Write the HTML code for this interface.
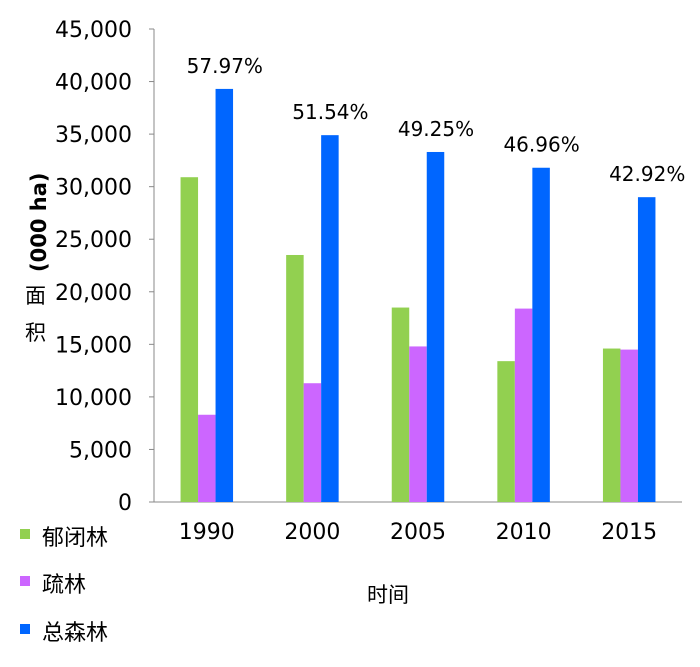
<!DOCTYPE html>
<html><head><meta charset="utf-8"><style>
body{margin:0;background:#fff;}
svg text{font-family:"DejaVu Sans","Liberation Sans","Noto Sans CJK SC",sans-serif;fill:#000;}
</style></head><body>
<svg id="chart" width="700" height="662"></svg>
<script>
const categories=["1990","2000","2005","2010","2015"];
const closedForest=[30900,23500,18500,13400,14600];
const openForest=[8300,11300,14800,18400,14500];
const totalForest=[39300,34900,33300,31800,29000];
const pctLabels=["57.97%","51.54%","49.25%","46.96%","42.92%"];
const yTicks=[0,5000,10000,15000,20000,25000,30000,35000,40000,45000];
const NS="http://www.w3.org/2000/svg";
const svg=document.getElementById('chart');
const x0=154,x1=682,yTop=29,yBot=502,yMax=45000;
const y=v=>yBot-(v/yMax)*(yBot-yTop);
const band=(x1-x0)/categories.length;
const xc=i=>x0+band*(i+0.5);
function mk(t,a){const e=document.createElementNS(NS,t);for(const k in a)e.setAttribute(k,a[k]);svg.appendChild(e);return e;}
let e;
e=mk('line',{x1:x0,y1:yTop,x2:x0,y2:yBot,stroke:'#888','stroke-width':1});


e=mk('line',{x1:x0,y1:yBot,x2:x1,y2:yBot,stroke:'#888','stroke-width':1});


yTicks.forEach(v=>{
 e=mk('line',{x1:x0-5,y1:y(v),x2:x0,y2:y(v),stroke:'#888'});
 
 
 e=mk('text',{x:x0-22,y:y(v)+8,'text-anchor':'end','font-size':22});
 e.textContent=v.toLocaleString('en-US');
 
 
});
const bw=17.5;
const series=[[closedForest,'#92d050','bar-closed-forest'],[openForest,'#cc66ff','bar-open-forest'],[totalForest,'#0066ff','bar-total-forest']];
categories.forEach((c,i)=>{
 series.forEach((s,j)=>{
  const bx=xc(i)-bw*1.5+bw*j;
  e=mk('rect',{x:bx,y:y(s[0][i]),width:bw,height:yBot-y(s[0][i]),fill:s[1]});
  
  
 });
 e=mk('text',{x:xc(i),y:yBot+37,'text-anchor':'middle','font-size':22});
 e.textContent=c;
 
 
 e=mk('text',{x:xc(i)+18,y:y(totalForest[i])-16,'text-anchor':'middle','font-size':20});
 e.textContent=pctLabels[i];
 
 
});
e=mk('text',{x:46,y:272,'font-size':21,'font-weight':'bold',transform:'rotate(-90 46 272)'});
e.textContent='(000 ha)';


e=mk('text',{x:25,y:303,'font-size':21});e.textContent='面';


e=mk('text',{x:25,y:340,'font-size':21});e.textContent='积';


e=mk('text',{x:388,y:602,'text-anchor':'middle','font-size':21});e.textContent='时间';


const leg=[['郁闭林','#92d050',537],['疏林','#cc66ff',584],['总森林','#0066ff',632]];
leg.forEach(l=>{
 e=mk('rect',{x:20,y:l[2]-8,width:10,height:10,fill:l[1]});
 
 
 e=mk('text',{x:42,y:l[2]+8,'font-size':22});e.textContent=l[0];
 
 
});
</script>
</body></html>
